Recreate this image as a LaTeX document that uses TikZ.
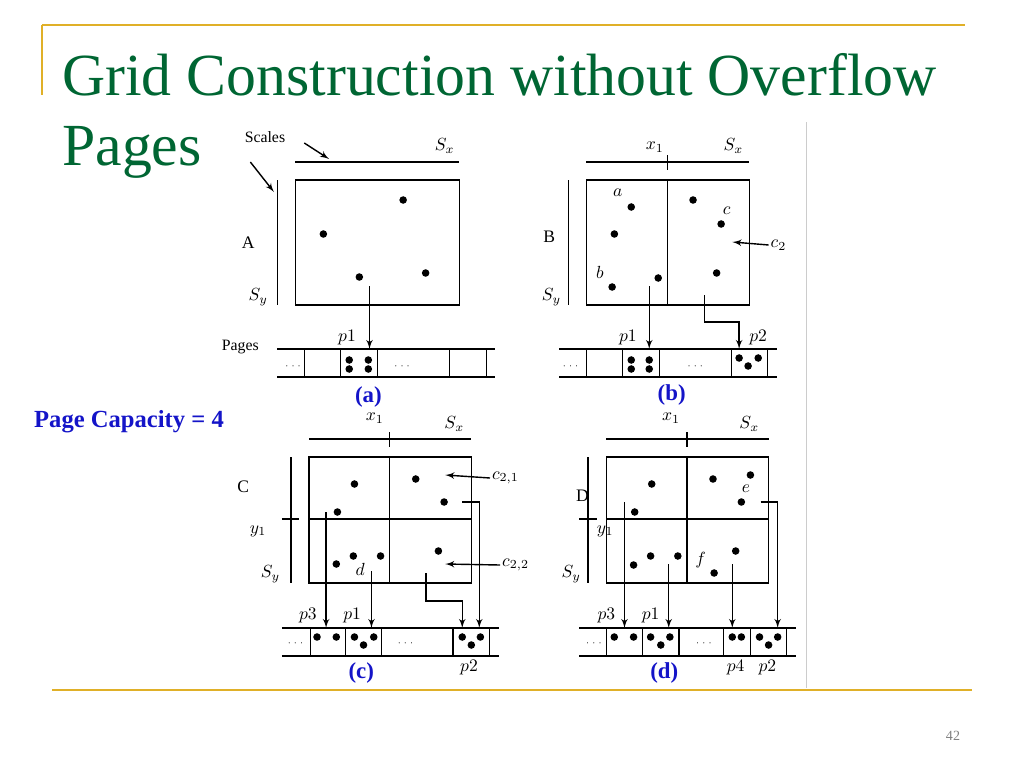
\documentclass[tikz,border=0pt]{standalone}
\usepackage{fontspec}
\setmainfont{Liberation Serif}
\usetikzlibrary{arrows}
\definecolor{gold}{RGB}{224,176,40}
\definecolor{titlegreen}{RGB}{0,102,51}
\definecolor{capblue}{RGB}{20,20,200}
\tikzstyle{line} = [draw, -latex', thick]
\tikzstyle{rule} = [draw, thick]
\tikzstyle{pt} = [circle, fill, inner sep=0pt, minimum size=4.3pt]
\tikzstyle{lbl} = [font=\fontsize{10}{10}\selectfont\itshape, inner sep=1pt]
\tikzstyle{caplbl} = [font=\fontsize{13}{13}\selectfont\bfseries, text=capblue]
% page strip: y top, x left, x right, dividers
\newcommand{\pagestrip}[4]{%
  \draw[thick] (#2,#1) -- (#3,#1) (#2,#1+28) -- (#3,#1+28);
  \foreach \d in {#4} \draw[thick] (\d,#1) -- (\d,#1+28);}
\begin{document}
\begin{tikzpicture}[x=0.02cm,y=-0.02cm]
\useasboundingbox (0,0) rectangle (1024,768);
% slide frame
\draw[gold, thick] (42,25) -- (965,25);
\draw[gold, thick] (42,25) -- (42,95);
\draw[gold, thick] (52,690) -- (972,690);
\draw[gray!40] (806,122) -- (806,688);
\node (title) at (62,95) [anchor=base west, inner sep=0pt, text=titlegreen, font=\fontsize{34}{34}\selectfont] {Grid Construction without Overflow};
\node (title2) at (62,165) [anchor=base west, inner sep=0pt, text=titlegreen, font=\fontsize{34}{34}\selectfont] {Pages};
\node (num) at (953,736) [text=gray, font=\fontsize{8}{8}\selectfont] {42};
\node (capacity) at (129,422) [caplbl, font=\fontsize{14}{14}\selectfont\bfseries] {Page Capacity = 4};

\begin{scope}[xscale=1.1236, xshift=-0.484cm]
% (a)
\node (scales) at (260,137) [font=\fontsize{9}{9}\selectfont] {Scales};
\node (pages) at (238,347) [font=\fontsize{9}{9}\selectfont] {Pages};
\node (aA) at (245,243) [font=\fontsize{10}{10}\selectfont] {A};
\node (aSy) at (254,297) [lbl] {$S_y$};
\node (aSx) at (420,146) [lbl] {$S_x$};
\coordinate (sxa) at (317,159);
\coordinate (sya) at (268,192);
\path [line] (295,143) -- (sxa);
\path [line] (247,162) -- (sya);
\draw[rule] (287,162) -- (433,162);
\draw[rule] (271,180) -- (271,305);
\draw[rule] (287,180) rectangle (433,305);
\foreach \p in {(383,200),(312,234),(344,277),(403,273)} \node[pt] at \p {};
\pagestrip{349}{271}{465}{295,327,360,424,457}
\node at (285,366) {\tiny$\cdots$};
\node at (382,366) {\tiny$\cdots$};
\node (ap1) at (333,338) [lbl] {$p1$};
\foreach \p in {(335,360),(352,360),(335,369),(352,369)} \node[pt] at \p {};
\coordinate (aa) at (353,286);
\coordinate (ap) at (353,349);
\path [line] (aa) -- (ap);
\node (capa) at (352,397) [caplbl] {(a)};

% (b)
\node (bB) at (513,237) [font=\fontsize{10}{10}\selectfont] {B};
\node (bSy) at (515,297) [lbl] {$S_y$};
\node (bSx) at (677,146) [lbl] {$S_x$};
\node (bx1) at (607,147) [lbl] {$x_1$};
\draw[rule] (546,162) -- (691,162) (618,155) -- (618,170);
\draw[rule] (530,180) -- (530,305);
\draw[rule] (546,180) rectangle (691,305) (618,180) -- (618,305);
\node at (574,193) [lbl] {$a$};
\node at (558,272) [lbl] {$b$};
\node at (671,211) [lbl] {$c$};
\foreach \p in {(586,207),(571,234),(569,287),(610,278),(641,200),(666,224),(662,273)} \node[pt] at \p {};
\node (bc2) at (717,245) [lbl] {$c_2$};
\path [line] (bc2.west) -- (676,242);
\pagestrip{349}{522}{716}{546,578,611,675,707}
\node at (532,366) {\tiny$\cdots$};
\node at (643,366) {\tiny$\cdots$};
\node (bp1) at (583,338) [lbl] {$p1$};
\node (bp2) at (699,338) [lbl] {$p2$};
\foreach \p in {(586,360),(602,360),(586,369),(602,369),(682,358),(699,358),(690,366)} \node[pt] at \p {};
\path [line] (602,286) -- (602,349);
\path [line] (651,295) -- (651,322) -- (682,322) -- (682,349);
\node (capb) at (622,395) [caplbl] {(b)};
\end{scope}

\begin{scope}[xscale=1.1346, xshift=-0.592cm]
% (c)
\node (cC) at (244,487) [font=\fontsize{10}{10}\selectfont] {C};
\node (cy1) at (257,531) [lbl] {$y_1$};
\node (cSy) at (268,574) [lbl] {$S_y$};
\node (cSx) at (430,424) [lbl] {$S_x$};
\node (cx1) at (360,418) [lbl] {$x_1$};
\draw[rule] (302,439) -- (445,439) (373,432) -- (373,447);
\draw[rule] (286,457) -- (286,583) (278,519) -- (293,519);
\draw[rule] (302,457) rectangle (445,583) (373,457) -- (373,583) (302,519) -- (445,519);
\foreach \p in {(342,484),(396,479),(421,502),(327,512),(326,564),(341,556),(365,556),(416,551)} \node[pt] at \p {};
\node at (347,569) [lbl] {$d$};
\node (c21) at (475,478) [lbl] {$c_{2,1}$};
\node (c22) at (484,565) [lbl] {$c_{2,2}$};
\path [line] (c21.west) -- (422,475);
\path [line] (c22.west) -- (422,564);
\pagestrip{628}{278}{469}{303,334,366,429,461}
\node at (290,643) {\tiny$\cdots$};
\node at (387,643) {\tiny$\cdots$};
\node (cp3) at (301,616) [lbl] {$p3$};
\node (cp1) at (340,616) [lbl] {$p1$};
\node (cp2) at (443,668) [lbl] {$p2$};
\foreach \p in {(309,637),(326,637),(342,637),(359,637),(350,645),(437,637),(453,637),(445,645)} \node[pt] at \p {};
\path [line] (317,512) -- (317,628);
\path [line] (357,571) -- (357,628);
\path [line] (405,573) -- (405,601) -- (437,601) -- (437,628);
\path [line] (437,502) -- (452,502) -- (452,628);
\node (capc) at (348,673) [caplbl] {(c)};

% (d)
\node (dD) at (543,496) [font=\fontsize{10}{10}\selectfont] {D};
\node (dy1) at (563,531) [lbl] {$y_1$};
\node (dSy) at (533,574) [lbl] {$S_y$};
\node (dSx) at (690,424) [lbl] {$S_x$};
\node (dx1) at (621,418) [lbl] {$x_1$};
\draw[rule] (564,439) -- (707,439) (635,432) -- (635,447);
\draw[rule] (548,457) -- (548,583) (540,519) -- (556,519);
\draw[rule] (564,457) rectangle (707,583) (635,457) -- (635,583) (564,519) -- (707,519);
\foreach \p in {(604,484),(658,479),(691,475),(683,502),(589,512),(588,565),(603,556),(627,556),(659,573),(678,551)} \node[pt] at \p {};
\node at (687,489) [lbl] {$e$};
\node at (647,560) [lbl] {$f$};
\pagestrip{628}{540}{731}{564,596,628,667,691,723}
\node at (553,643) {\tiny$\cdots$};
\node at (650,643) {\tiny$\cdots$};
\node (dp3) at (564,616) [lbl] {$p3$};
\node (dp1) at (603,616) [lbl] {$p1$};
\node (dp4) at (678,668) [lbl] {$p4$};
\node (dp2) at (706,668) [lbl] {$p2$};
\foreach \p in {(571,637),(588,637),(603,637),(620,637),(612,645),(675,637),(683,637),(699,637),(715,637),(707,645)} \node[pt] at \p {};
\path [line] (580,502) -- (580,628);
\path [line] (619,564) -- (619,628);
\path [line] (675,564) -- (675,628);
\path [line] (700,502) -- (715,502) -- (715,628);
\node (capd) at (615,673) [caplbl] {(d)};
\end{scope}
\end{tikzpicture}
\end{document}
